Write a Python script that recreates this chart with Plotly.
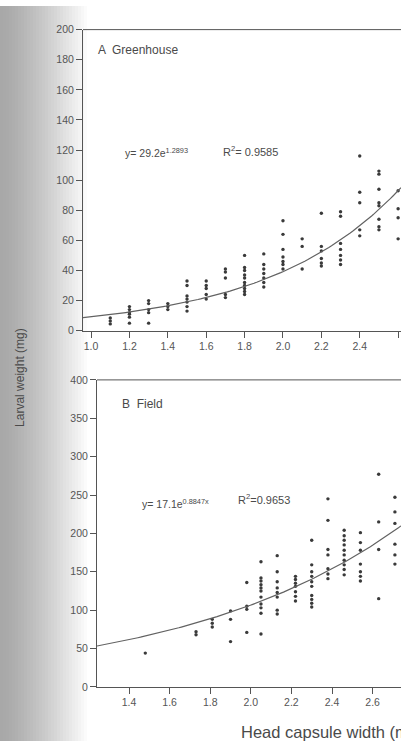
import numpy as np
import plotly.graph_objects as go

# ---------------- data ----------------
# Panel A (Greenhouse): head capsule width columns and larval weights (mg)
ga_x = [1.1, 1.2, 1.3, 1.4, 1.5, 1.6, 1.7, 1.8, 1.9, 2.0, 2.1, 2.2, 2.3, 2.4, 2.5, 2.6]
ga_y = [
    [8.5, 6.5, 4.5],
    [16, 14, 12, 11, 9, 5],
    [20, 18, 14, 12, 5],
    [18, 16, 14],
    [33, 30, 23, 21, 19, 16, 13],
    [33, 30, 28, 24, 21],
    [41, 39, 35, 24, 22],
    [50, 42, 40, 37, 35, 32, 30, 28, 26, 24],
    [51, 44, 41, 38, 35, 32, 29],
    [73, 64, 54, 49, 46, 44, 41],
    [61, 56, 41],
    [78, 56, 53, 48, 45, 43],
    [79, 76, 58, 54, 50, 47, 44],
    [116, 92, 85, 67, 63],
    [106, 104, 94, 85, 83, 74, 69, 67],
    [93, 81, 75, 61],
]
# Panel B (Field)
gb_x = [1.48, 1.73, 1.81, 1.90, 1.98, 2.05, 2.13, 2.22, 2.30, 2.38, 2.46, 2.54, 2.63, 2.71]
gb_y = [
    [44],
    [72, 68],
    [88, 83, 78],
    [99, 88, 59],
    [136, 105, 101, 71],
    [163, 142, 138, 133, 129, 125, 117, 108, 103, 96, 69],
    [171, 150, 137, 129, 123, 117, 100, 95],
    [144, 140, 135, 131, 124, 118, 112],
    [191, 159, 150, 144, 137, 131, 119, 114, 109, 104],
    [245, 217, 179, 172, 154, 147, 141],
    [204, 197, 191, 185, 178, 172, 165, 159, 153, 146],
    [201, 188, 178, 160, 150, 144, 138],
    [277, 215, 179, 115],
    [247, 228, 213, 186, 172, 160],
]
# exponential fit coefficients y = a * exp(b x) (as drawn)
fit_a_A, fit_b_A = 2.2, 1.44
fit_a_B, fit_b_B = 17.1, 0.915

xticks_A = [1.0, 1.2, 1.4, 1.6, 1.8, 2.0, 2.2, 2.4, 2.6]
yticks_A = list(range(0, 201, 20))
xticks_B = [1.4, 1.6, 1.8, 2.0, 2.2, 2.4, 2.6]
yticks_B = list(range(0, 401, 50))

eq_A = "y= 29.2e<sup>1.2893</sup>"
r2_A = "R<sup>2</sup>= 0.9585"
eq_B = "y= 17.1e<sup>0.8847x</sup>"
r2_B = "R<sup>2</sup>=0.9653"


def flat(xs, ys):
    fx, fy = [], []
    for x, col in zip(xs, ys):
        for v in col:
            fx.append(x)
            fy.append(v)
    return fx, fy


W, H = 401, 747
xrA = [0.958, 2.615]
xrB = [1.242, 2.74]

fig = go.Figure()
ax, ay = flat(ga_x, ga_y)
bx, by = flat(gb_x, gb_y)
dot = dict(size=3.4, color="#3a3a3a")
fig.add_trace(go.Scatter(x=ax, y=ay, mode="markers", marker=dot, xaxis="x", yaxis="y", showlegend=False))
fig.add_trace(go.Scatter(x=bx, y=by, mode="markers", marker=dot, xaxis="x2", yaxis="y2", showlegend=False))

cxA = np.linspace(xrA[0], xrA[1], 120)
cxB = np.linspace(xrB[0], xrB[1], 120)
fig.add_trace(go.Scatter(x=cxA, y=fit_a_A * np.exp(fit_b_A * cxA), mode="lines",
                         line=dict(color="#626262", width=1.2), xaxis="x", yaxis="y", showlegend=False))
fig.add_trace(go.Scatter(x=cxB, y=fit_a_B * np.exp(fit_b_B * cxB), mode="lines",
                         line=dict(color="#626262", width=1.2), xaxis="x2", yaxis="y2", showlegend=False))

tickfont = dict(family="Liberation Sans, Arial", size=10.5, color="#555555")
axcommon = dict(showline=True, linecolor="#555555", linewidth=1, ticks="outside", ticklen=6,
                tickcolor="#555555", tickfont=tickfont, showgrid=False, zeroline=False)

pA_y0, pA_y1 = 1 - 330 / H, 1 - 24 / H
pB_y0, pB_y1 = 1 - 692 / H, 1 - 380 / H
pA_x0 = 83 / W
pB_x0 = 97 / W

fig.update_layout(
    width=W, height=H,
    margin=dict(l=0, r=0, t=0, b=0),
    paper_bgcolor="white", plot_bgcolor="rgba(0,0,0,0)",
    xaxis=dict(domain=[pA_x0, 1], range=xrA, tickvals=xticks_A,
               ticktext=[f"{v:.1f}" for v in xticks_A], anchor="y", **axcommon),
    yaxis=dict(domain=[pA_y0, pA_y1], range=[0, 200], tickvals=yticks_A, anchor="x", **axcommon),
    xaxis2=dict(domain=[pB_x0, 1], range=xrB, tickvals=xticks_B,
                ticktext=[f"{v:.1f}" for v in xticks_B], anchor="y2", **axcommon),
    yaxis2=dict(domain=[pB_y0, pB_y1], range=[0, 400], tickvals=yticks_B, anchor="x2", **axcommon),
)

# scan shadow on the left
shapes = []
n = 30
for i in range(n):
    x0 = i * 3
    t = i / (n - 1)
    g = int(168 + (255 - 168) * (t ** 1.3))
    shapes.append(dict(type="rect", xref="paper", yref="paper", x0=x0 / W, x1=(x0 + 3.5) / W,
                       y0=0, y1=1, fillcolor=f"rgb({g},{g},{g})", line=dict(width=0), layer="below"))
# top frame lines
shapes.append(dict(type="line", xref="x domain", yref="y domain", x0=0, x1=1, y0=1, y1=1,
                   line=dict(color="#555555", width=1)))
shapes.append(dict(type="line", xref="x2 domain", yref="y2 domain", x0=0, x1=1, y0=1, y1=1,
                   line=dict(color="#555555", width=1)))
fig.update_layout(shapes=shapes)

txt = dict(family="Liberation Sans, Arial", color="#4a4a4a")


def ann(px, py, text, size, **kw):
    d = dict(x=px / W, y=1 - py / H, xref="paper", yref="paper", text=text, showarrow=False,
             xanchor="left", yanchor="middle", font=dict(size=size, **txt))
    d.update(kw)
    return d


annotations = [
    ann(96, 45, "A  Greenhouse", 12),
    ann(123, 149, eq_A, 10.5),
    ann(221, 147, r2_A, 11),
    ann(120, 405, "B  Field", 12),
    ann(140, 506, eq_B, 10.5),
    ann(236, 501, r2_B, 11),
    ann(239, 738, "Head capsule width (mm)", 16.5),
    dict(x=20 / W, y=1 - 378 / H, xref="paper", yref="paper", text="Larval weight (mg)",
         showarrow=False, textangle=-90, xanchor="center", yanchor="middle",
         font=dict(size=12, **txt)),
]
fig.update_layout(annotations=annotations)

fig.write_html(
    "out.html",
    config={"displayModeBar": False},
    post_script="document.body.style.margin='0';document.body.style.overflow='hidden';",
)
